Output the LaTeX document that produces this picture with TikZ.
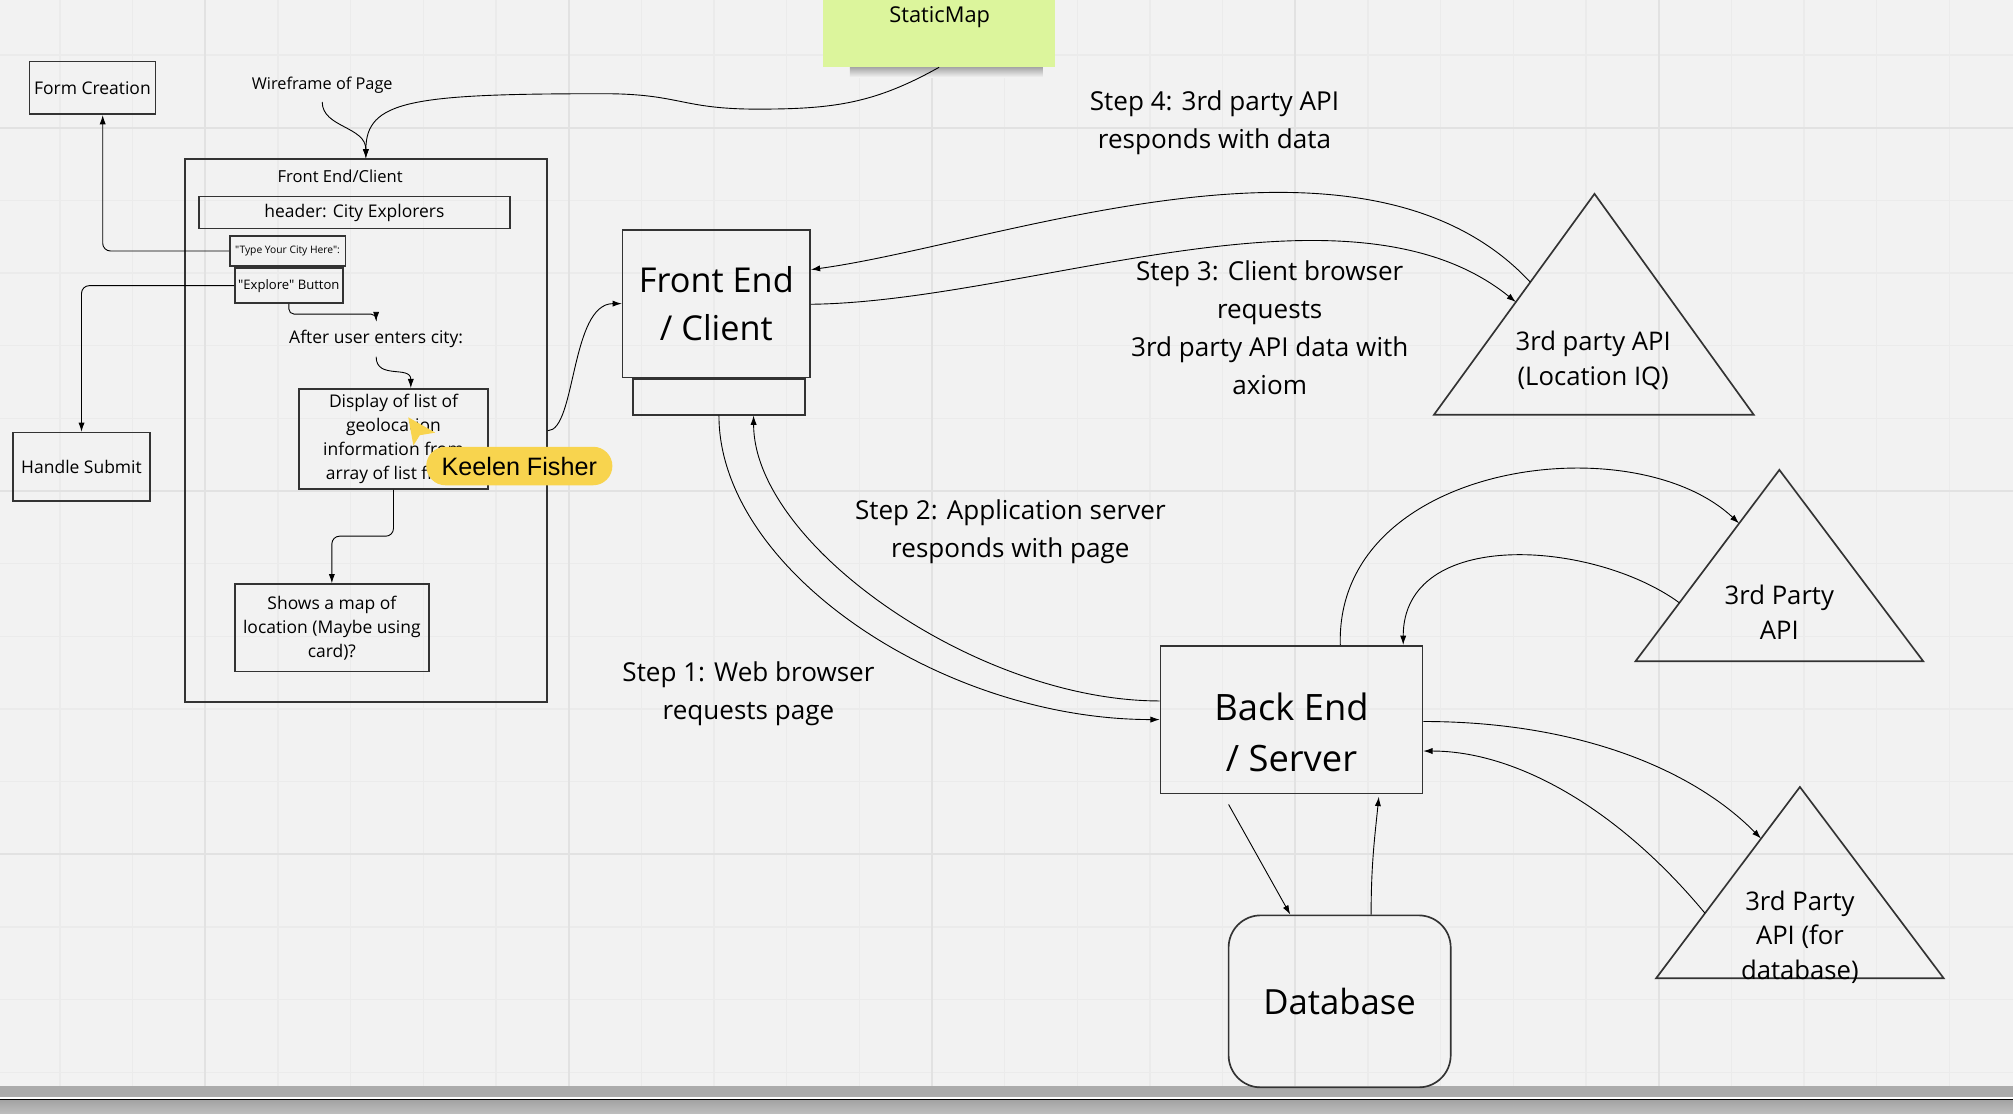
\documentclass[tikz,border=0pt]{standalone}
\usepackage{fontspec}
\setmainfont{Open Sans}[Ligatures=TeXOff]
\newfontfamily\cursorfont{Liberation Sans}
\usetikzlibrary{arrows.meta,calc}
\definecolor{board}{HTML}{F2F2F2}
\definecolor{gridminor}{HTML}{EBEBEB}
\definecolor{gridmajor}{HTML}{E2E2E2}
\definecolor{sticky}{HTML}{DCF59C}
\definecolor{cursor}{HTML}{F8D44E}
\definecolor{ink}{HTML}{333333}

\begin{document}
\begin{tikzpicture}[x=0.5pt, y=-0.5pt, >={Latex[length=3.6pt,width=2.4pt]},
    box/.style={draw=ink, line width=0.65pt, align=center, inner sep=1pt},
    link/.style={->, line width=0.35pt, black},
    smalltext/.style={font=\fontsize{6.8}{9.35}\selectfont},
    steptext/.style={align=center, font=\fontsize{10.15}{14.8}\selectfont},
    apitext/.style={align=center, font=\fontsize{10}{13.5}\selectfont},
    tri/.style={draw=ink, line width=0.65pt, line join=miter}]

    % Board
    \useasboundingbox (0,0) rectangle (1568,867);
    \fill[board] (0,0) rectangle (1568,867);
    \foreach \k in {0,...,26}
        \draw[gridminor, line width=0.5pt] ({46.8+56.6*\k},0) -- ({46.8+56.6*\k},846);
    \foreach \k in {0,...,14}
        \draw[gridminor, line width=0.5pt] (0,{42.9+56.6*\k}) -- (1568,{42.9+56.6*\k});
    \foreach \k in {0,...,4}
        \draw[gridmajor, line width=0.8pt] ({160+283*\k},0) -- ({160+283*\k},846);
    \foreach \k in {0,...,2}
        \draw[gridmajor, line width=0.8pt] (0,{99.5+283*\k}) -- (1568,{99.5+283*\k});
    \fill[gray!66] (0,846) rectangle (1568,854.5);
    \fill[white] (0,854.5) rectangle (1568,856);
    \draw[black, line width=0.5pt] (0,856.5) -- (1568,856.5);
    \shade[top color=gray!72, bottom color=gray!52] (0,857) rectangle (1568,867);

    % Sticky note
    \shade[top color=black!40, bottom color=board] (662,51) rectangle (812,60);
    \node[fill=sticky, minimum width=90.5pt, minimum height=26pt, inner sep=0pt] (static) at (731.5,26) {};
    \node[font=\fontsize{8.5}{10}\selectfont] (statictxt) at (732,13) {StaticMap};

    % Wireframe
    \node[font=\fontsize{6.35}{8}\selectfont] (wire) at (251,66) {Wireframe of Page};
    \node[box, minimum width=141pt, minimum height=211.5pt] (frame) at (285,335.5) {};
    \node[font=\fontsize{6.45}{8}\selectfont] (frametitle) at (265,137) {Front End/Client};
    \node[box, smalltext, minimum width=121pt, minimum height=12.5pt] (header) at (276,165.5) {header: City Explorers};
    \node[box, font=\fontsize{4}{5}\selectfont, minimum width=45pt, minimum height=11.5pt] (typecity) at (224,195.5) {"Type Your City Here":};
    \node[box, font=\fontsize{5.1}{6}\selectfont, minimum width=42pt, minimum height=13.5pt] (explore) at (225,222.5) {"Explore" Button};
    \node[smalltext] (after) at (293,264) {After user enters city:};
    \node[box, smalltext, minimum width=73.5pt, minimum height=39pt] (display) at (306.5,342) {Display of list of\\geolocation\\information from\\array of list from};
    \node[box, smalltext, minimum width=75.5pt, minimum height=34pt] (map) at (258.5,489) {Shows a map of\\location (Maybe using\\card)?};
    \node[box, smalltext, minimum width=49pt, minimum height=20.5pt] (form) at (72,68.5) {Form Creation};
    \node[box, smalltext, minimum width=53.5pt, minimum height=26.5pt] (submit) at (63.5,363.5) {Handle Submit};

    % Front end and back end
    \node[box, font=\fontsize{13.35}{18.5}\selectfont, minimum width=73pt, minimum height=57.5pt] (fe) at (558,236.5) {Front End\\/ Client};
    \node[box, minimum width=67pt, minimum height=14pt] (slot) at (560,309) {};
    \node[box, minimum width=102pt, minimum height=57.5pt,
        label={[font=\fontsize{14.15}{20}\selectfont, align=center, yshift=-5pt]center:Back End\\/ Server}] (be) at (1006,560.5) {};
    \node[box, rounded corners=12.5pt, font=\fontsize{13.5}{16}\selectfont, minimum width=86.5pt, minimum height=67pt] (db) at (1043.5,780) {Database};

    % Wireframe links
    \draw[link, rounded corners=3pt] (typecity.west) -| ([xshift=4pt]form.south);
    \draw[link, rounded corners=3pt] (explore.west) -| (submit.north);
    \draw[link, rounded corners=2pt] (explore.south) -- ++(0,8) -| (after.north);
    \draw[link] (after.south) .. controls +(0,18) and +(0,-18) .. ([xshift=6.75pt]display.north);
    \draw[link, rounded corners=3pt] (display.south) -- ++(0,36) -| (map.north);
    \draw[link] (wire.south) .. controls +(0,20) and +(0,-25) .. (frame.north);
    \draw[link] (static.south) .. controls +(-50,28) and +(60,0) .. (590,85)
        .. controls +(-60,0) and +(60,0) .. (470,73)
        .. controls +(-150,0) and +(0,-45) .. (frame.north);
    \draw[link] (frame.east) .. controls +(22,0) and +(-40,0) .. (fe.west);

    % Cursor
    \fill[cursor] (318,325) -- (322,347) -- (327,339) -- (339,337) -- cycle;
    \node[fill=cursor, rounded corners=7.5pt, minimum width=72.5pt, minimum height=15pt,
        font=\cursorfont\fontsize{9.8}{11}\selectfont] (keelen) at (404.5,363) {Keelen Fisher};

    % Third party APIs
    \coordinate (iq-top) at (1242,151);
    \coordinate (iq-left) at (1117,323);
    \coordinate (iq-right) at (1366,323);
    \draw[tri] (iq-top) -- (iq-left) -- (iq-right) -- cycle;
    \node[apitext] (iq) at (1241,281) {3rd party API\\(Location IQ)};

    \coordinate (api-top) at (1386,366);
    \coordinate (api-left) at (1274,515);
    \coordinate (api-right) at (1498,515);
    \draw[tri] (api-top) -- (api-left) -- (api-right) -- cycle;
    \node[apitext] (api) at (1386,477) {3rd Party\\API};

    \coordinate (dbapi-top) at (1402,613);
    \coordinate (dbapi-left) at (1290,762);
    \coordinate (dbapi-right) at (1514,762);
    \draw[tri] (dbapi-top) -- (dbapi-left) -- (dbapi-right) -- cycle;
    \node[apitext] (dbapi) at (1402,730) {3rd Party\\API (for\\database)};

    % Steps
    \node[steptext] (step4) at (946,95.5) {Step 4: 3rd party API\\responds with data};
    \node[steptext] (step3) at (989,255) {Step 3: Client browser\\requests\\3rd party API data with\\axiom};
    \node[steptext] (step2) at (787,414) {Step 2: Application server\\responds with page};
    \node[steptext] (step1) at (583,540) {Step 1: Web browser\\requests page};

    \draw[link] ($(iq-top)!0.4!(iq-left)$) .. controls +(-130,-140) and +(147,-20) .. ([yshift=13.25pt]fe.east);
    \draw[link] ([yshift=-0.25pt]fe.east) .. controls +(169,-2) and +(-130,-105) .. ($(iq-top)!0.49!(iq-left)$);
    \draw[link] (slot.south) .. controls +(0,120) and +(-170,0) .. (be.west);
    \draw[link] ([yshift=7.25pt]be.west) .. controls +(-143,0) and +(0,100) .. ([xshift=13.5pt]slot.south);

    % Back end links
    \draw[link] ([xshift=19pt]be.north) .. controls +(-4,-142) and +(-83,-78) .. ($(api-top)!0.28!(api-left)$);
    \draw[link] ($(api-top)!0.695!(api-left)$) .. controls +(-67,-49) and +(0,-92) .. ([xshift=43.5pt]be.north);
    \draw[link] ([yshift=-0.75pt]be.east) .. controls +(122,0) and +(-52,-53) .. ($(dbapi-top)!0.27!(dbapi-left)$);
    \draw[link] ($(dbapi-top)!0.66!(dbapi-left)$) .. controls +(-68,-82) and +(72,0) .. ([yshift=-12.25pt]be.east);
    \draw[link] ([xshift=-24.5pt,yshift=-4pt]be.south) -- ([xshift=-19.25pt]db.north);
    \draw[link] ([xshift=12.25pt]db.north) .. controls +(0,-40) and +(-3,30) .. ([xshift=34pt,yshift=-1pt]be.south);
\end{tikzpicture}
\end{document}
